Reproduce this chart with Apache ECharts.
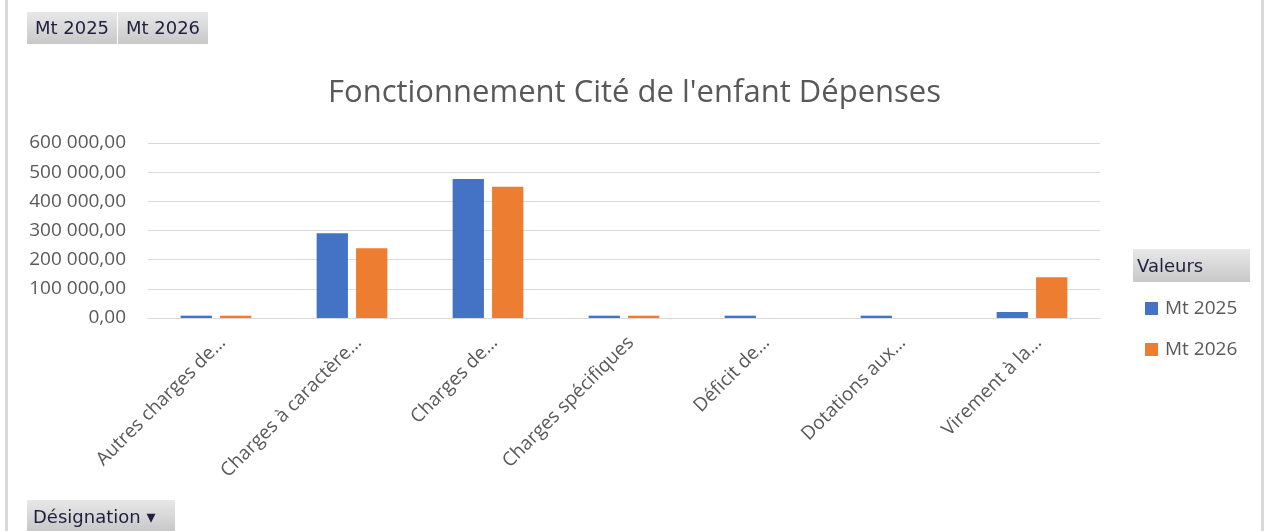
<!DOCTYPE html>
<html><head><meta charset="utf-8">
<script src="https://cdn.jsdelivr.net/npm/echarts@6/dist/echarts.min.js"></script>
<style>html,body{margin:0;padding:0;background:#fff;}#c{width:1269px;height:531px;}</style>
</head><body><div id="c"></div>
<script>
const categories = ["Autres charges de…","Charges à caractère…","Charges de…","Charges spécifiques","Déficit de…","Dotations aux…","Virement à la…"];
const mt2025 = [8000, 291000, 476500, 8000, 8000, 8000, 20500];
const mt2026 = [8000, 239000, 450000, 8000, 0, 0, 139500];
const seriesNames = ["Mt 2025","Mt 2026"];
const titleText = "Fonctionnement Cité de l'enfant Dépenses";

function fr(v){
  const s = Math.round(v).toString().replace(/\B(?=(\d{3})+(?!\d))/g,' ');
  return s + ',00';
}
const font = "'Open Sans', 'Liberation Sans', sans-serif";
const btnGrad = {type:'linear',x:0,y:0,x2:0,y2:1,colorStops:[{offset:0,color:'#e8e8e8'},{offset:1,color:'#c8c8c8'}]};
const chart = echarts.init(document.getElementById('c'));
chart.setOption({
  animation:false,
  backgroundColor:'#fff',
  title:{text:titleText,left:'center',top:73,textStyle:{fontFamily:font,fontSize:31,fontWeight:'normal',color:'#595959'}},
  grid:{left:148,right:169,top:143,bottom:213,containLabel:false},
  legend:{orient:'vertical',left:1140,top:294,itemWidth:13,itemHeight:13,itemGap:22,icon:'rect',
    textStyle:{fontFamily:font,fontSize:19,color:'#595959',padding:[0,0,0,2]},data:seriesNames},
  xAxis:{type:'category',data:categories,
    axisLine:{show:true,lineStyle:{color:'#d9d9d9',width:1}},axisTick:{show:false},
    axisLabel:{rotate:45,interval:0,fontFamily:font,fontSize:19,color:'#595959',margin:15,verticalAlign:'top'}},
  yAxis:{type:'value',min:0,max:600000,interval:100000,
    axisLine:{show:false},axisTick:{show:false},
    splitLine:{lineStyle:{color:'#d9d9d9',width:1}},
    axisLabel:{formatter:fr,fontFamily:font,fontSize:19,color:'#595959',margin:22}},
  series:[
    {name:seriesNames[0],type:'bar',data:mt2025,itemStyle:{color:'#4472c4'},barGap:'26%',barCategoryGap:'48%'},
    {name:seriesNames[1],type:'bar',data:mt2026,itemStyle:{color:'#ed7d31'}}
  ],
  graphic:[
    {type:'rect',shape:{x:5,y:0,width:3,height:531},style:{fill:'#d9d9d9'}},
    {type:'rect',shape:{x:1261,y:0,width:3,height:531},style:{fill:'#d9d9d9'}},
    {type:'rect',shape:{x:27,y:12,width:90,height:32},style:{fill:btnGrad}},
    {type:'text',x:72,y:29,style:{text:'Mt 2025',fontFamily:"'DejaVu Sans'",fontSize:18,fill:'#1f1f3f',align:'center',verticalAlign:'middle'}},
    {type:'rect',shape:{x:118,y:12,width:90,height:32},style:{fill:btnGrad}},
    {type:'text',x:163,y:29,style:{text:'Mt 2026',fontFamily:"'DejaVu Sans'",fontSize:18,fill:'#1f1f3f',align:'center',verticalAlign:'middle'}},
    {type:'rect',shape:{x:1133,y:249,width:117,height:33},style:{fill:btnGrad}},
    {type:'text',x:1137,y:267,style:{text:'Valeurs',fontFamily:"'DejaVu Sans'",fontSize:18,fill:'#1f1f3f',align:'left',verticalAlign:'middle'}},
    {type:'rect',shape:{x:27,y:500,width:148,height:31},style:{fill:btnGrad}},
    {type:'text',x:33,y:518,style:{text:'Désignation ▾',fontFamily:"'DejaVu Sans'",fontSize:18,fill:'#1f1f3f',align:'left',verticalAlign:'middle'}}
  ]
});
</script></body></html>
